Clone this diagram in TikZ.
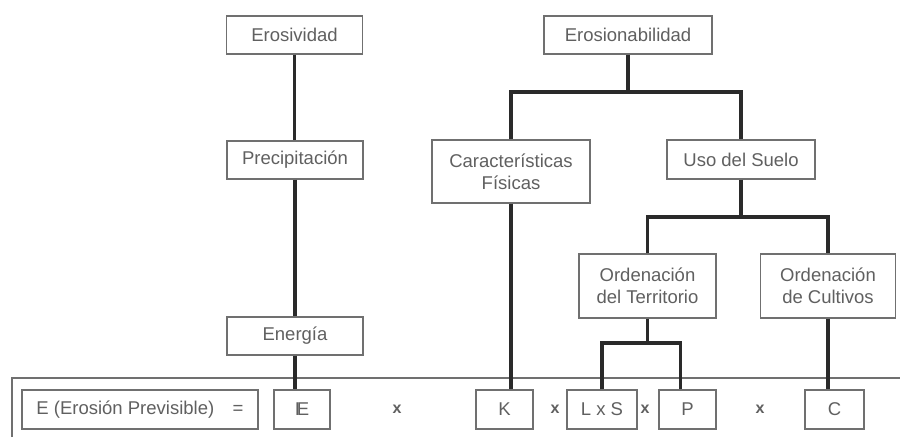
\documentclass[tikz,border=0pt]{standalone}
\usepackage{fontspec}
\setmainfont{Liberation Sans}
\definecolor{boxgray}{HTML}{707070}
\definecolor{txtgray}{HTML}{606060}
\definecolor{linedark}{HTML}{2A2A2A}
\begin{document}
\begin{tikzpicture}[x=1pt,y=-1pt,
  box/.style={draw=boxgray, line width=1.4pt, text=txtgray, inner sep=0pt,
    font=\fontsize{18.5}{22}\selectfont, align=center, minimum height=38pt},
  tall/.style={box, minimum height=64pt},
  conn/.style={draw=linedark, line width=3.2pt},
  times/.style={text=txtgray, font=\fontsize{16}{18}\selectfont\bfseries, inner sep=0pt}]
\useasboundingbox (0,0) rectangle (900,437);
\fill[white] (0,0) rectangle (900,437);
% frame
\draw[boxgray, line width=1.8pt] (12,437) -- (12,378) -- (900,378);
% top nodes
\node[box, minimum width=136pt] (eros) at (294.5,35) {Erosividad};
\node[box, minimum width=168pt] (erosi) at (628,35) {Erosionabilidad};
\node[box, minimum width=136pt] (prec) at (295,160) {Precipitación};
\node[box, minimum width=136pt] (ener) at (295,336) {Energía};
\node[box, minimum width=158pt, minimum height=63pt] (carac) at (511,171.5) {Características\\Físicas};
\node[box, minimum width=148pt, minimum height=39pt] (uso) at (741,159.5) {Uso del Suelo};
\node[tall, minimum width=137pt] (ordT) at (647.5,286) {Ordenación\\del Territorio};
\node[tall, minimum width=135pt] (ordC) at (828,286) {Ordenación\\de Cultivos};
% bottom row
\node[box, minimum width=236pt, minimum height=39pt] (eq) at (140,409.5) {E (Erosión Previsible)\quad=};
\node[box, minimum width=56pt, minimum height=39pt] (IE) at (302,409.5) {I\kern-0.17em E};
\node[box, minimum width=57pt, minimum height=39pt] (K) at (504.5,409.5) {K};
\node[box, minimum width=70pt, minimum height=39pt] (LS) at (602,409.5) {L x S};
\node[box, minimum width=57pt, minimum height=39pt] (P) at (687.5,409.5) {P};
\node[box, minimum width=59pt, minimum height=39pt] (C) at (834.5,409.5) {C};
\node[times] (x1) at (397,409) {x};
\node[times] (x2) at (555,409) {x};
\node[times] (x3) at (645,409) {x};
\node[times] (x4) at (760,409) {x};
% connectors
\draw[conn] (eros.south) -- (eros.south |- prec.north);
\draw[conn] (prec.south) -- (prec.south |- ener.north);
\draw[conn] (ener.south) -- (ener.south |- IE.north);
\coordinate (b1) at (628,92);
\draw[conn] (erosi.south) -- (b1);
\draw[conn, line join=miter] (carac.north) |- (b1) -| (uso.north);
\draw[conn] (carac.south) -- (carac.south |- K.north);
\coordinate (b2) at (741,217);
\draw[conn] (uso.south) -- (b2);
\draw[conn, line join=miter] (ordT.north) |- (b2) -| (ordC.north);
\draw[conn] (ordC.south) -- (ordC.south |- C.north);
\coordinate (b3) at (647.5,343);
\draw[conn] (ordT.south) -- (b3);
\draw[conn, line join=miter] (LS.north) |- (b3) -| ([xshift=-7pt]P.north);
\end{tikzpicture}
\end{document}
